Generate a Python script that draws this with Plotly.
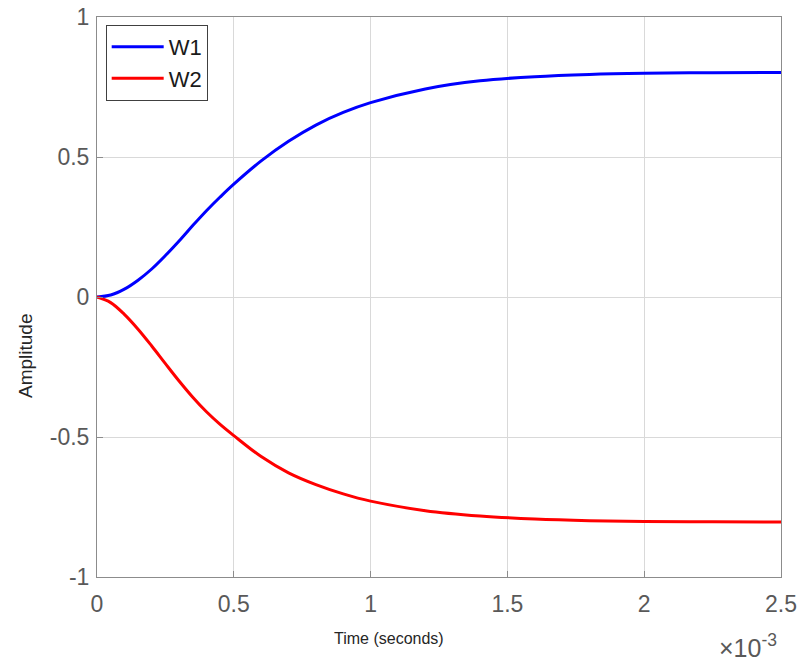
import plotly.graph_objects as go

# Time in seconds
t = [0, 0.00005, 0.0001, 0.00015, 0.0002, 0.00025, 0.0003, 0.00035, 0.0004, 0.00045,
     0.0005, 0.0006, 0.0007, 0.0008, 0.0009, 0.001, 0.0012, 0.0014, 0.0016, 0.0018,
     0.002, 0.00225, 0.0025]
w1 = [0, 0.007, 0.028, 0.06, 0.1, 0.148, 0.2, 0.255, 0.308, 0.357,
      0.403, 0.486, 0.556, 0.614, 0.659, 0.694, 0.743, 0.772, 0.787, 0.795,
      0.799, 0.801, 0.802]
w2 = [0, -0.02, -0.062, -0.115, -0.175, -0.238, -0.3, -0.358, -0.41, -0.455,
      -0.495, -0.57, -0.628, -0.67, -0.703, -0.729, -0.763, -0.782, -0.793, -0.799,
      -0.802, -0.803, -0.804]

x_tickvals = [0, 0.0005, 0.001, 0.0015, 0.002, 0.0025]
x_ticktext = ["0", "0.5", "1", "1.5", "2", "2.5"]
y_tickvals = [-1, -0.5, 0, 0.5, 1]
y_ticktext = ["-1", "-0.5", "0", "0.5", "1"]

FONT = "Liberation Sans, Arial, Helvetica"

fig = go.Figure()
fig.add_trace(go.Scatter(x=t, y=w1, mode="lines", name="W1",
                         line=dict(color="#0000ff", width=3, shape="spline", smoothing=1.0)))
fig.add_trace(go.Scatter(x=t, y=w2, mode="lines", name="W2",
                         line=dict(color="#ff0000", width=3, shape="spline", smoothing=1.0)))

axis_common = dict(showgrid=True, gridcolor="#d9d9d9", gridwidth=1, zeroline=False,
                   showline=True, linecolor="#8c8c8c", linewidth=1, mirror=True,
                   ticks="inside", ticklen=6, tickcolor="#8c8c8c", automargin=False,
                   tickfont=dict(family=FONT, size=23, color="#595959"))

fig.update_layout(
    width=805, height=664,
    margin=dict(l=97, r=24, t=17, b=87),
    plot_bgcolor="white", paper_bgcolor="white",
    xaxis=dict(range=[0, 0.0025], tickvals=x_tickvals, ticktext=x_ticktext,
               ticklabelstandoff=6, **axis_common),
    yaxis=dict(range=[-1, 1], tickvals=y_tickvals, ticktext=y_ticktext,
               ticklabelstandoff=2, **axis_common),
    legend=dict(x=0.0127, y=0.986, xanchor="left", yanchor="top",
                bordercolor="#404040", borderwidth=1, bgcolor="white",
                font=dict(family=FONT, size=22, color="#1a1a1a"),
                itemwidth=52, tracegroupgap=0),
    showlegend=True,
    annotations=[
        dict(text="Time (seconds)", x=389, y=638,
             font=dict(family=FONT, size=16, color="#262626")),
        dict(text="Amplitude", x=25, y=356, textangle=-90,
             font=dict(family=FONT, size=19, color="#262626")),
        dict(text="×10<sup>-3</sup>", x=748, y=646,
             font=dict(family=FONT, size=25, color="#595959")),
    ],
)

# convert pixel annotation positions to paper coordinates
pw, ph = 805 - 97 - 24, 664 - 17 - 87
for a in fig.layout.annotations:
    px, py = a.x, a.y
    a.x = (px - 97) / pw
    a.y = 1 - (py - 17) / ph
    a.xref = "paper"
    a.yref = "paper"
    a.xanchor = "center"
    a.yanchor = "middle"
    a.showarrow = False

fig.write_html("out.html")
